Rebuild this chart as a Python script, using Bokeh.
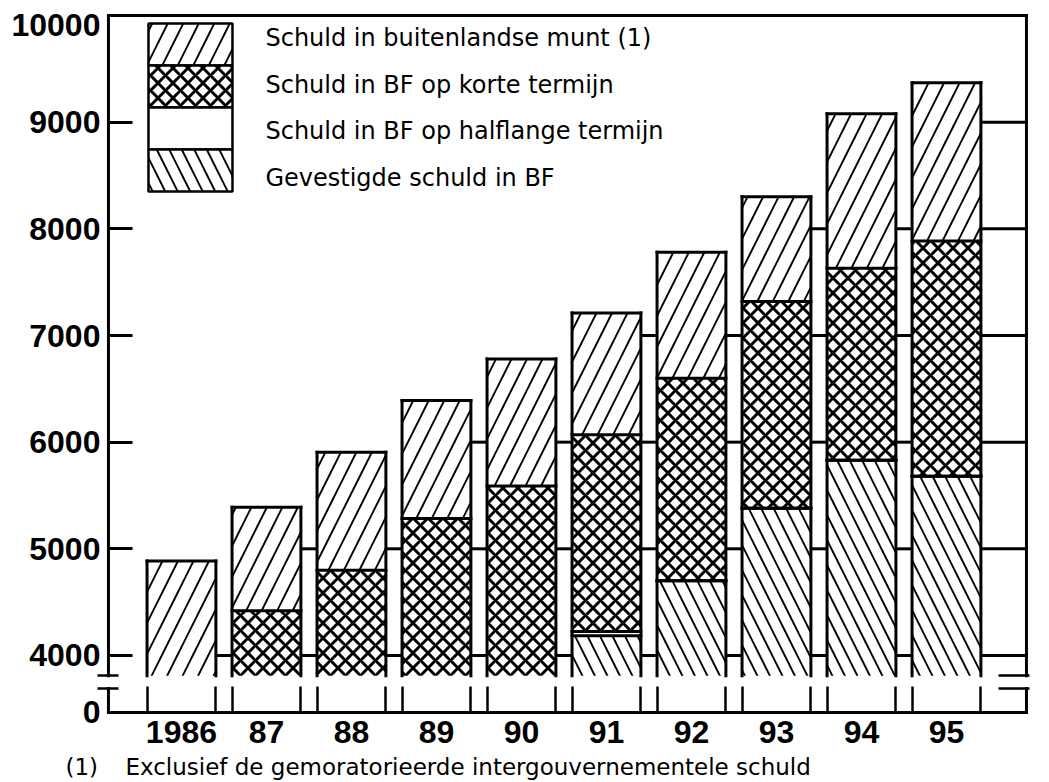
from bokeh.plotting import figure
from bokeh.models import Range1d, FixedTicker, LinearAxis, Label
from bokeh.embed import file_html
from bokeh.resources import INLINE

# ---------------- data ----------------
years = [1986, 1987, 1988, 1989, 1990, 1991, 1992, 1993, 1994, 1995]
year_labels = ["1986", "87", "88", "89", "90", "91", "92", "93", "94", "95"]
# cumulative upper boundary of each stacked series (None = below the axis break)
top_gevestigde = [None, None, None, None, None, 4185, 4700, 5380, 5830, 5680]
top_halflange = [None, None, None, None, None, 4225, 4700, 5380, 5830, 5680]
top_korte = [None, 4420, 4800, 5285, 5590, 6070, 6600, 7320, 7630, 7886]
top_buitenland = [4885, 5390, 5905, 6390, 6780, 7210, 7780, 8300, 9080, 9370]
y_ticks = [4000, 5000, 6000, 7000, 8000, 9000, 10000]
zero_label = "0"
legend_order = ["buit", "kort", "half", "gev"]
names = {
    "buit": "Schuld in buitenlandse munt (1)",
    "kort": "Schuld in BF op korte termijn",
    "half": "Schuld in BF op halflange termijn",
    "gev": "Gevestigde schuld in BF",
}
footnote_mark = "(1)"
footnote_text = "Exclusief de gemoratorieerde intergouvernementele schuld"

# ---------------- layout / style constants ----------------
W, H = 1049, 782
PX_PER_X = 85.0            # pixels per category step
PX_PER_Y = 0.10667         # pixels per unit of value
X_START, X_END = -2.129, 10.212
Y_START, Y_END = 2809, 10141
AXIS_X, RIGHT_X = -0.859, 9.941
AXIS_ZERO = 3466           # where the broken axis shows "0"
BASE = 3810                # bars are cut at the axis break
BREAK_LOW = 3690
BAR_W = 0.81
HW = BAR_W / 2
LW = 3
GAP_MARGIN = 100
HATCH = {
    "gev": dict(hatch_pattern="\\", hatch_scale=25, hatch_weight=1.9, hatch_color="black"),
    "half": {},
    "kort": dict(hatch_pattern="x", hatch_scale=15, hatch_weight=3.0, hatch_color="black"),
    "buit": dict(hatch_pattern="/", hatch_scale=31, hatch_weight=1.9, hatch_color="black"),
}
TICK_FONT = "Liberation Sans"
TEXT_FONT = "DejaVu Sans"

p = figure(width=W, height=H, output_backend="svg", toolbar_location=None,
           x_range=Range1d(X_START, X_END), y_range=Range1d(Y_START, Y_END),
           x_axis_location=None, y_axis_location=None, min_border=0)
p.grid.visible = False
p.outline_line_color = None
p.background_fill_color = "white"
p.border_fill_color = "white"

xs = list(range(len(years)))
lv = lambda arr: [BASE if v is None else v for v in arr]
g, h, k, t = lv(top_gevestigde), lv(top_halflange), lv(top_korte), lv(top_buitenland)

series = [("gev", [BASE] * len(xs), g), ("half", g, h), ("kort", h, k), ("buit", k, t)]
for key, bot, top in series:
    p.vbar(x=xs, bottom=bot, top=top, width=BAR_W, fill_color="white", line_color=None, **HATCH[key])

# bar outlines and stack boundaries
hx0, hx1, hy = [], [], []
for _, bot, top in series:
    for i, v in enumerate(top):
        if v > BASE:
            hx0.append(i - HW); hx1.append(i + HW); hy.append(v)
p.segment(x0=hx0, y0=hy, x1=hx1, y1=hy, line_color="black", line_width=LW, line_cap="square")
vx = [i - HW for i in xs] + [i + HW for i in xs]
p.segment(x0=vx, y0=[BASE] * len(vx), x1=vx, y1=t + t, line_color="black", line_width=LW, line_cap="square")

# level lines in the gaps between bars (and between the last bar and the frame)
gx0, gx1, gy = [], [], []
for L in y_ticks[:-1]:
    for i in range(len(xs) - 1):
        if min(t[i], t[i + 1]) - L > GAP_MARGIN:
            gx0.append(i + HW); gx1.append(i + 1 - HW); gy.append(L)
    if t[-1] - L > GAP_MARGIN:
        gx0.append(xs[-1] + HW); gx1.append(RIGHT_X); gy.append(L)
p.segment(x0=gx0, y0=gy, x1=gx1, y1=gy, line_color="black", line_width=LW)

# broken frame
YT = y_ticks[-1]
fx0 = [AXIS_X, AXIS_X, AXIS_X, RIGHT_X, RIGHT_X, AXIS_X]
fy0 = [BASE, AXIS_ZERO, YT, BASE, AXIS_ZERO, AXIS_ZERO]
fx1 = [AXIS_X, AXIS_X, RIGHT_X, RIGHT_X, RIGHT_X, RIGHT_X]
fy1 = [YT, BREAK_LOW, YT, YT, BREAK_LOW, AXIS_ZERO]
p.segment(x0=fx0, y0=fy0, x1=fx1, y1=fy1, line_color="black", line_width=LW, line_cap="square")

# ---------------- axes (placed on the drawn frame) ----------------
ya = LinearAxis(fixed_location=AXIS_X,
                ticker=FixedTicker(ticks=[AXIS_ZERO] + y_ticks[:-1], minor_ticks=[BASE, BREAK_LOW]))
ya.major_label_overrides = {AXIS_ZERO: zero_label, **{v: str(v) for v in y_ticks[:-1]}}
ya.axis_line_color = None
ya.major_tick_in = 24
ya.major_tick_out = 0
ya.major_tick_line_width = LW
ya.minor_tick_in = 10
ya.minor_tick_out = 11
ya.minor_tick_line_width = 2.5
ya.major_label_standoff = -3
ya.major_label_text_font = TICK_FONT
ya.major_label_text_font_style = "bold"
ya.major_label_text_font_size = "32px"
ya.major_label_text_color = "black"
p.add_layout(ya, "left")

xa = LinearAxis(fixed_location=AXIS_ZERO,
                ticker=FixedTicker(ticks=xs, minor_ticks=sorted(vx)))
xa.major_label_overrides = {i: lbl for i, lbl in zip(xs, year_labels)}
xa.axis_line_color = None
xa.major_tick_in = 0
xa.major_tick_out = 0
xa.major_tick_line_color = None
xa.minor_tick_in = 26
xa.minor_tick_out = 0
xa.minor_tick_line_width = 2.5
xa.major_label_standoff = 9
xa.major_label_text_font = TICK_FONT
xa.major_label_text_font_style = "bold"
xa.major_label_text_font_size = "32px"
xa.major_label_text_color = "black"
p.add_layout(xa, "below")

ra = LinearAxis(fixed_location=RIGHT_X, ticker=FixedTicker(ticks=[], minor_ticks=[BASE, BREAK_LOW]))
ra.axis_line_color = None
ra.minor_tick_in = 28
ra.minor_tick_out = 3
ra.minor_tick_line_width = 2.5
p.add_layout(ra, "right")

# top tick label (sits just under the top frame line)
p.add_layout(Label(x=AXIS_X - 8 / PX_PER_X, y=YT - 9 / PX_PER_Y, text=str(YT), text_align="right",
                   text_baseline="middle", text_font=TICK_FONT, text_font_style="bold",
                   text_font_size="32px", text_color="black"))

# ---------------- legend (key drawn as a stacked swatch) ----------------
KEY_X = 0.106
KEY_W = 84 / PX_PER_X
KEY_TOP = 9925
KEY_STEP = 42 / PX_PER_Y
TXT_X = 0.988
TXT_TOP = 9794
TXT_STEP = 47 / PX_PER_Y
for j, key in enumerate(legend_order):
    top = KEY_TOP - j * KEY_STEP
    p.vbar(x=[KEY_X], top=[top], bottom=[top - KEY_STEP], width=KEY_W, fill_color="white",
           line_color="black", line_width=2.5, **HATCH[key])
    p.add_layout(Label(x=TXT_X, y=TXT_TOP - j * TXT_STEP, text=names[key], text_font=TEXT_FONT,
                       text_font_size="24px", text_baseline="middle", text_color="black"))

# ---------------- footnote ----------------
FOOT_Y = 2955
p.add_layout(Label(x=-1.365, y=FOOT_Y, text=footnote_mark, text_font=TEXT_FONT,
                   text_font_size="23px", text_baseline="middle", text_color="black"))
p.add_layout(Label(x=-0.659, y=FOOT_Y, text=footnote_text, text_font=TEXT_FONT,
                   text_font_size="23px", text_baseline="middle", text_color="black"))

open("out.html", "w").write(file_html(p, INLINE))
